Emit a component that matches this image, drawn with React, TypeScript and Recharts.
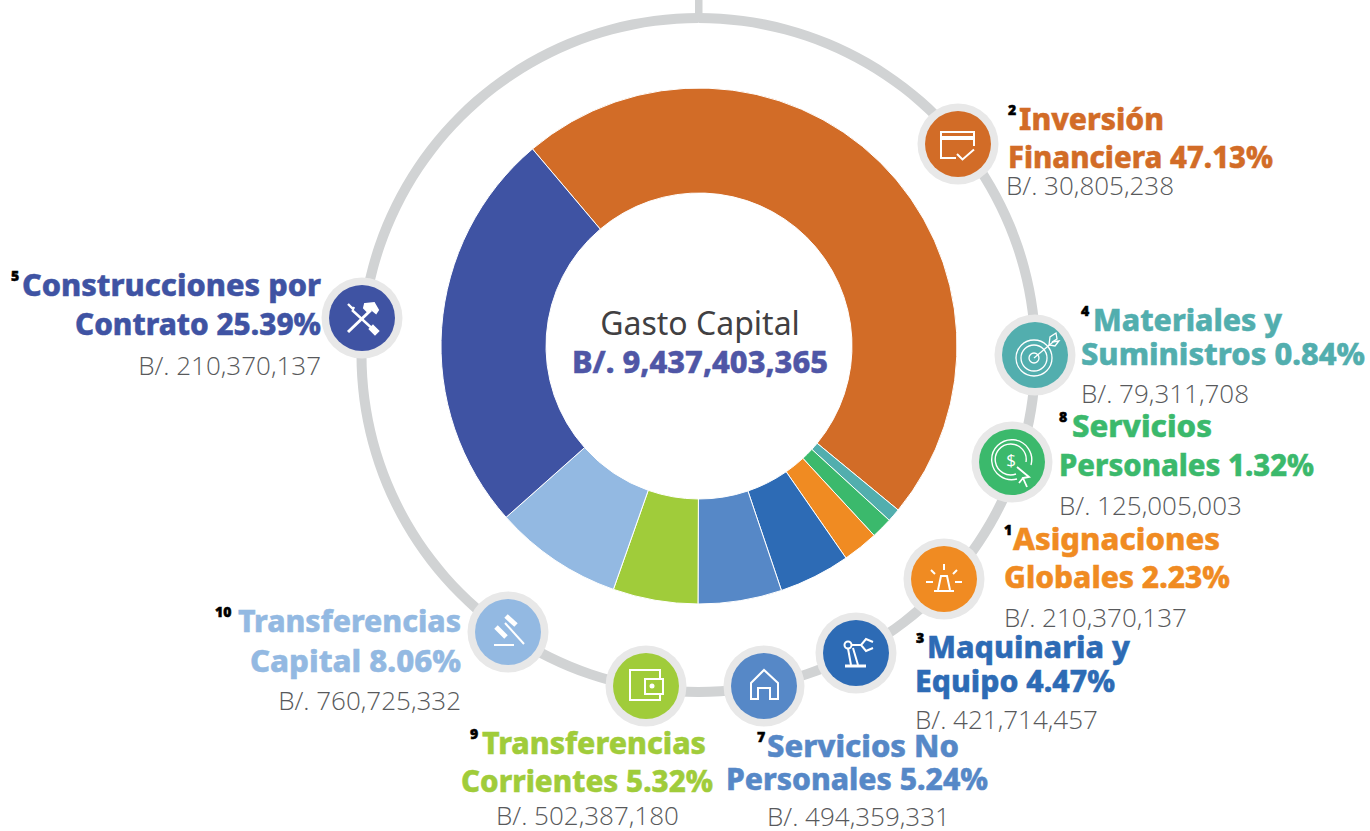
import React from 'react';
import { PieChart, Pie, Cell } from 'recharts';

const categories = [
  'Inversión Financiera',
  'Materiales y Suministros',
  'Servicios Personales',
  'Asignaciones Globales',
  'Maquinaria y Equipo',
  'Servicios No Personales',
  'Transferencias Corrientes',
  'Transferencias Capital',
  'Construcciones por Contrato',
];
const shares = [47.13, 0.84, 1.32, 2.23, 4.47, 5.24, 5.32, 8.06, 25.39];
const amounts = [
  'B/. 30,805,238',
  'B/. 79,311,708',
  'B/. 125,005,003',
  'B/. 210,370,137',
  'B/. 421,714,457',
  'B/. 494,359,331',
  'B/. 502,387,180',
  'B/. 760,725,332',
  'B/. 210,370,137',
];
const ranks = ['2', '4', '8', '1', '3', '7', '9', '10', '5'];
const firstLines = ['Inversión', 'Materiales y', 'Servicios', 'Asignaciones', 'Maquinaria y', 'Servicios No', 'Transferencias', 'Transferencias', 'Construcciones por'];
const secondLines = ['Financiera 47.13%', 'Suministros 0.84%', 'Personales 1.32%', 'Globales 2.23%', 'Equipo 4.47%', 'Personales 5.24%', 'Corrientes 5.32%', 'Capital 8.06%', 'Contrato 25.39%'];
const colors = ['#D26C27', '#52AEAE', '#3BB96C', '#F08B22', '#2D6BB5', '#5688C7', '#A0CC3A', '#93B9E2', '#3F53A3'];

const centerTitle = 'Gasto Capital';
const centerTotal = 'B/. 9,437,403,365';

const pieData = categories.map((name, i) => ({ name, value: shares[i] }));
const ringData = [{ name: 'ring', value: 1 }];

const HEAD_FONT = '"Noto Sans", sans-serif';
const BODY_FONT = '"Open Sans", sans-serif';

// where each callout sits: ix/iy icon centre, x1/x2/x3 text starts, y1/y2/y3 baselines, w1/w2 line widths
const layout = [
  { ix: 958, iy: 144, sx: 1008, x1: 1019, x2: 1008, x3: 1006, y1: 130, y2: 168, y3: 195, w1: 145, w2: 265, anchor: 'start' },
  { ix: 1035, iy: 355, sx: 1081, x1: 1093, x2: 1081, x3: 1081, y1: 331, y2: 365, y3: 403, w1: 189, w2: 284, anchor: 'start' },
  { ix: 1012, iy: 462, sx: 1059, x1: 1072, x2: 1059, x3: 1059, y1: 437, y2: 476, y3: 515, w1: 140, w2: 255, anchor: 'start' },
  { ix: 944, iy: 579, sx: 1004, x1: 1013, x2: 1004, x3: 1004, y1: 550, y2: 588, y3: 627, w1: 207, w2: 226, anchor: 'start' },
  { ix: 856, iy: 653, sx: 916, x1: 927, x2: 915, x3: 915, y1: 658, y2: 692, y3: 729, w1: 203, w2: 200, anchor: 'start' },
  { ix: 764, iy: 686, sx: 757, x1: 767, x2: 726, x3: 767, y1: 757, y2: 790, y3: 826, w1: 192, w2: 262, anchor: 'start' },
  { ix: 646, iy: 686, sx: 470, x1: 482, x2: 461, x3: 496, y1: 754, y2: 792, y3: 825, w1: 224, w2: 252, anchor: 'start' },
  { ix: 508, iy: 632, sx: 215, x1: 461, x2: 461, x3: 461, y1: 632, y2: 672, y3: 710, w1: 223, w2: 211, anchor: 'end' },
  { ix: 362, iy: 318, sx: 11, x1: 321, x2: 321, x3: 321, y1: 296, y2: 335, y3: 375, w1: 299, w2: 246, anchor: 'end' },
];

const iconLine = { fill: 'none', stroke: '#fff', strokeWidth: 2 };

function CardIcon() {
  return (
    <g {...iconLine}>
      <path d="M16 2V-12H-17V14H-2" />
      <path d="M-17 -6H16" strokeWidth={4} />
      <path d="M-1 10L4.5 15.5L16 5.5" />
    </g>
  );
}

function TargetIcon() {
  return (
    <g {...iconLine} strokeWidth={1.3}>
      <circle cx={-1} cy={3} r={18} />
      <circle cx={-1} cy={3} r={13} />
      <circle cx={-1} cy={3} r={5} />
      <path d="M-1 3L18 -13" />
      <path d="M14 -10L15 -18L21 -22L22 -16L17 -13L24 -14L20 -9Z" />
    </g>
  );
}

function CoinIcon() {
  return (
    <g {...iconLine} strokeWidth={1.4}>
      <path d="M5 17A20 20 0 1 1 19 3" />
      <path d="M4 12A15.5 15.5 0 1 1 14 0" />
      <text x={-1} y={4} textAnchor="middle" fontFamily={BODY_FONT} fontSize={17} fill="#fff" stroke="none">$</text>
      <path d="M5 5L17 15L11 16L15 25M11 16L7 21Z" strokeWidth={1.8} />
    </g>
  );
}

function BeaconIcon() {
  return (
    <g {...iconLine}>
      <path d="M-6 11L-3 -3H3L6 11" />
      <path d="M-10 12H10" />
      <path d="M0 -15V-9M-13 -9L-9 -5M13 -9L9 -5M-18 3H-11M11 3H18" />
    </g>
  );
}

function RobotIcon() {
  return (
    <g {...iconLine}>
      <path d="M-11 13H10" strokeWidth={3} />
      <circle cx={-8} cy={-8} r={3.5} />
      <path d="M-8 -4.5L-5 12M-3 -5L2 12M-4.5 -8H6" />
      <path d="M17 -11L10 -14L5 -8L10 -2L17 -5" />
    </g>
  );
}

function HouseIcon() {
  return (
    <g {...iconLine}>
      <path d="M-13 13V-3L0 -16L14 -3V13H6V2H-6V13Z" />
    </g>
  );
}

function WalletIcon() {
  return (
    <g {...iconLine}>
      <path d="M14 -7V-16H-16V14H14V8" />
      <rect x={-1} y={-7} width={18} height={15} />
      <circle cx={6} cy={0} r={2.5} fill="#fff" stroke="none" />
    </g>
  );
}

function GavelIcon() {
  return (
    <g {...iconLine}>
      <path d="M-3 -9L16 12" />
      <path d="M-2 -16L8 -7" strokeWidth={5} />
      <path d="M-12 -5L-2 5" strokeWidth={5} />
      <path d="M-14 13H6" />
    </g>
  );
}

function ToolsIcon() {
  return (
    <g {...iconLine}>
      <path d="M-14 -14L-9 -9L-8 -11M-10 -8L14 14M11 8L16 13L13 16L8 11Z" strokeWidth={2.4} />
      <path d="M9 -8L-14 14" strokeWidth={3} />
      <path d="M3 -14L12 -15L16 -8L14 -5L9 -9L6 -6L2 -10Z" fill="#fff" />
    </g>
  );
}

const icons = [CardIcon, TargetIcon, CoinIcon, BeaconIcon, RobotIcon, HouseIcon, WalletIcon, GavelIcon, ToolsIcon];

function Callout({ index }: { index: number }) {
  const p = layout[index];
  const color = colors[index];
  const Icon = icons[index];
  const headStyle = {
    fontFamily: HEAD_FONT,
    fontWeight: 800,
    fontSize: 30,
    fill: color,
    stroke: color,
    strokeWidth: 0.5,
    textAnchor: p.anchor as any,
    lengthAdjust: 'spacingAndGlyphs',
  };
  return (
    <g>
      <circle cx={p.ix} cy={p.iy} r={40.5} fill="#E8E8E8" />
      <circle cx={p.ix} cy={p.iy} r={33} fill={color} />
      <g transform={`translate(${p.ix} ${p.iy})`}>
        <Icon />
      </g>
      <text x={p.sx} y={p.y1 - 15} fontFamily={HEAD_FONT} fontWeight={900} fontSize={14} fill="#000" stroke="#000" strokeWidth={0.5}>
        {ranks[index]}
      </text>
      <text x={p.x1} y={p.y1} textLength={p.w1} {...headStyle}>
        {firstLines[index]}
      </text>
      <text x={p.x2} y={p.y2} textLength={p.w2} {...headStyle}>
        {secondLines[index]}
      </text>
      <text x={p.x3} y={p.y3} textAnchor={p.anchor as any} fontFamily={BODY_FONT} fontWeight={300} fontSize={26} fill="#58595B">
        {amounts[index]}
      </text>
    </g>
  );
}

export default function App() {
  return (
    <div style={{ position: 'absolute', left: 0, top: 0, width: 1370, height: 831, background: '#fff' }}>
      <PieChart width={1370} height={831} margin={{ top: 0, right: 0, bottom: 0, left: 0 }}>
        <Pie
          data={ringData}
          dataKey="value"
          cx={698.5}
          cy={355}
          innerRadius={332}
          outerRadius={342}
          startAngle={90}
          endAngle={-270}
          stroke="none"
          fill="#D1D3D4"
          isAnimationActive={false}
        />
        <Pie
          data={pieData}
          dataKey="value"
          cx={699}
          cy={346}
          innerRadius={153}
          outerRadius={258}
          startAngle={130.2}
          endAngle={-229.8}
          paddingAngle={0}
          stroke="#fff"
          strokeWidth={1}
          isAnimationActive={false}
        >
          {pieData.map((d, i) => (
            <Cell key={d.name} fill={colors[i]} />
          ))}
        </Pie>
      </PieChart>
      {/* raw svg children go under the pies in recharts 3, so the callouts sit in their own layer */}
      <svg width={1370} height={831} style={{ position: 'absolute', left: 0, top: 0 }}>
        <rect x={695} y={0} width={7.5} height={14} fill="#D1D3D4" />
        {categories.map((name, i) => (
          <Callout key={name} index={i} />
        ))}
        <text x={700} y={335} textAnchor="middle" fontFamily={HEAD_FONT} fontSize={32} fill="#414042">
          {centerTitle}
        </text>
        <text x={700} y={373} textAnchor="middle" fontFamily={HEAD_FONT} fontWeight={800} fontSize={31} textLength={256} lengthAdjust="spacingAndGlyphs" fill="#4F56A6" stroke="#4F56A6" strokeWidth={0.5}>
          {centerTotal}
        </text>
      </svg>
    </div>
  );
}
